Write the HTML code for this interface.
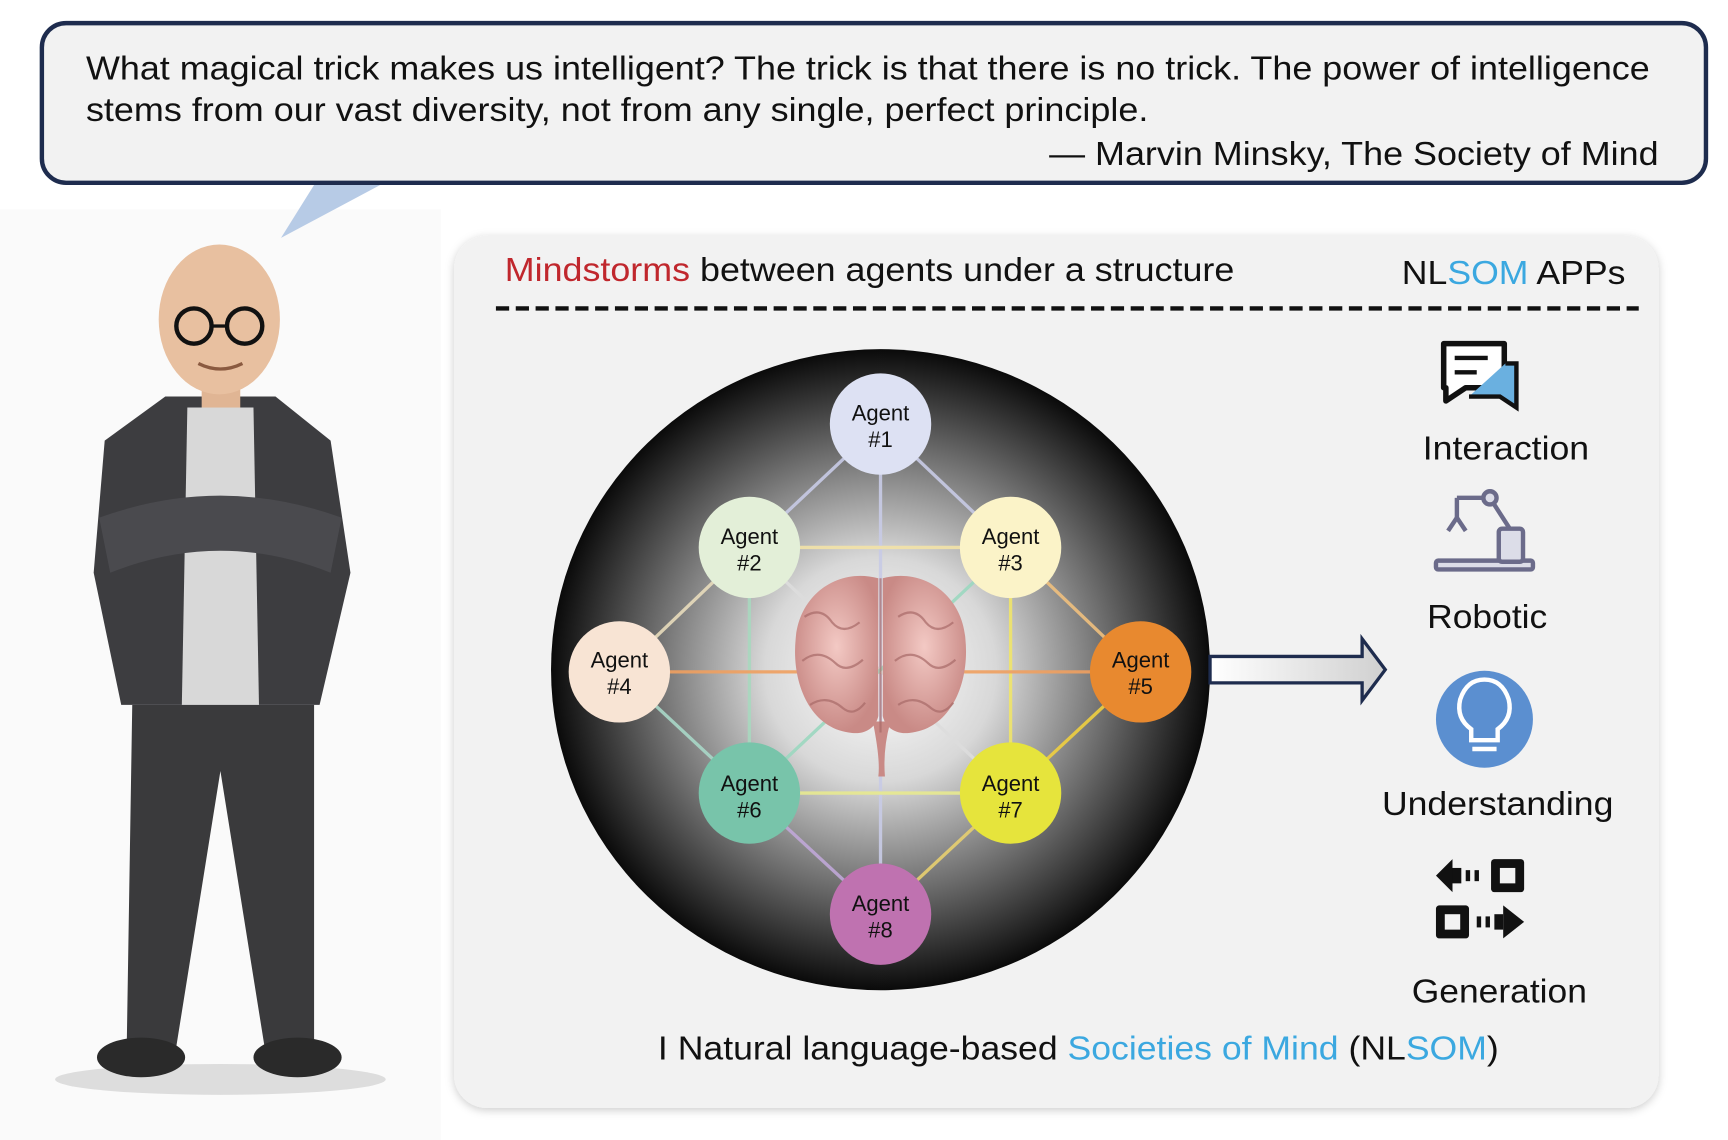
<!DOCTYPE html>
<html><head><meta charset="utf-8"><style>
html,body{margin:0;padding:0;background:#fff;}
svg{display:block;}
text{font-family:"Liberation Sans",Arial,sans-serif;}
</style></head><body>
<svg width="1728" height="1140" viewBox="0 0 1568 1035" preserveAspectRatio="none" xmlns="http://www.w3.org/2000/svg">
<defs>
<radialGradient id="orb" cx="50%" cy="50%" r="50%">
<stop offset="0" stop-color="#ffffff"/><stop offset="0.35" stop-color="#d8d8d8"/><stop offset="0.7" stop-color="#6a6a6a"/><stop offset="1" stop-color="#0a0a0a"/>
</radialGradient>
<linearGradient id="arr" x1="0" x2="1"><stop offset="0" stop-color="#fff"/><stop offset="1" stop-color="#d0d0d0"/></linearGradient>
<filter id="sh" x="-5%" y="-5%" width="110%" height="110%"><feDropShadow dx="0" dy="2" stdDeviation="4" flood-color="#000" flood-opacity="0.2"/></filter>
<radialGradient id="brain" cx="50%" cy="45%" r="55%"><stop offset="0" stop-color="#f3c9c4"/><stop offset="1" stop-color="#c98a86"/></radialGradient>
</defs>
<rect width="1568" height="1035" fill="#fff"/>
<rect x="0" y="190" width="400" height="845" fill="#fafafa"/>
<!-- quote box -->
<rect x="38" y="21" width="1510" height="145" rx="22" fill="#f2f2f2" stroke="#1e2c4e" stroke-width="4"/>
<polygon points="255,216 285,168 345,168" fill="#b7cbe6"/>
<text x="78" y="72" font-size="30" fill="#111" textLength="1419" lengthAdjust="spacingAndGlyphs">What magical trick makes us intelligent? The trick is that there is no trick. The power of intelligence</text>
<text x="78" y="110" font-size="30" fill="#111" textLength="964" lengthAdjust="spacingAndGlyphs">stems from our vast diversity, not from any single, perfect principle.</text>
<text x="952" y="150" font-size="30" fill="#111" textLength="553" lengthAdjust="spacingAndGlyphs">— Marvin Minsky, The Society of Mind</text>
<!-- panel -->
<rect x="412" y="214" width="1093" height="792" rx="30" fill="#f2f2f2" filter="url(#sh)"/>
<text x="458" y="255" font-size="30" fill="#111" textLength="662" lengthAdjust="spacingAndGlyphs"><tspan fill="#c0272d">Mindstorms</tspan> between agents under a structure</text>
<text x="1272" y="258" font-size="30" fill="#111" textLength="203" lengthAdjust="spacingAndGlyphs">NL<tspan fill="#3ba8e0">SOM</tspan> APPs</text>
<line x1="450" y1="280" x2="1487" y2="280" stroke="#111" stroke-width="4" stroke-dasharray="12,6"/>
<!-- orb -->
<ellipse cx="799" cy="608" rx="299" ry="291" fill="url(#orb)"/>
<g stroke-width="3" opacity="0.9">
<line x1="799" y1="385" x2="799" y2="830" stroke="#c8cbe6"/>
<line x1="799" y1="385" x2="680" y2="497" stroke="#c8cbe6"/>
<line x1="799" y1="385" x2="917" y2="497" stroke="#c8cbe6"/>
<line x1="680" y1="497" x2="917" y2="497" stroke="#f3e3a8"/>
<line x1="680" y1="497" x2="562" y2="610" stroke="#e8dcbc"/>
<line x1="917" y1="497" x2="1035" y2="610" stroke="#f0c07e"/>
<line x1="680" y1="497" x2="680" y2="720" stroke="#a9d8bf"/>
<line x1="917" y1="497" x2="917" y2="720" stroke="#f0e56a"/>
<line x1="562" y1="610" x2="1035" y2="610" stroke="#f0a060"/>
<line x1="562" y1="610" x2="680" y2="720" stroke="#a9d8c8"/>
<line x1="1035" y1="610" x2="917" y2="720" stroke="#f0d040"/>
<line x1="680" y1="720" x2="917" y2="720" stroke="#e8ea90"/>
<line x1="680" y1="720" x2="799" y2="830" stroke="#c0a8d8"/>
<line x1="917" y1="720" x2="799" y2="830" stroke="#e8d070"/>
<line x1="680" y1="497" x2="917" y2="720" stroke="#ddd"/>
<line x1="917" y1="497" x2="680" y2="720" stroke="#9cd8c0"/>
</g>
<!-- brain -->
<g>
<path d="M797,525 C760,515 725,540 722,580 C718,620 735,660 770,665 C785,668 795,660 797,650 Z" fill="url(#brain)"/>
<path d="M801,525 C838,515 873,540 876,580 C880,620 863,660 828,665 C813,668 803,660 801,650 Z" fill="url(#brain)"/>
<path d="M792,655 Q799,690 797,705 L803,705 Q801,680 808,655 Z" fill="#c98a86"/>
<g fill="none" stroke="#a86a68" stroke-width="2" opacity="0.7">
<path d="M730,560 q15,-10 25,5 q10,12 25,0"/><path d="M728,600 q15,-12 30,2 q10,10 25,-3"/><path d="M735,640 q15,-10 30,3 q10,8 20,-5"/>
<path d="M815,560 q15,-10 25,5 q10,12 25,0"/><path d="M812,600 q15,-12 30,2 q10,10 25,-3"/><path d="M815,640 q15,-10 30,3 q10,8 20,-5"/>
<line x1="799" y1="525" x2="799" y2="665"/>
</g>
</g>
<!-- agents -->
<g font-size="20" text-anchor="middle" fill="#111">
<circle cx="799" cy="385" r="46" fill="#dde1f3"/><text x="799" y="382">Agent</text><text x="799" y="406">#1</text>
<circle cx="680" cy="497" r="46" fill="#e3efd8"/><text x="680" y="494">Agent</text><text x="680" y="518">#2</text>
<circle cx="917" cy="497" r="46" fill="#fbf3c8"/><text x="917" y="494">Agent</text><text x="917" y="518">#3</text>
<circle cx="562" cy="610" r="46" fill="#f8e4d4"/><text x="562" y="606">Agent</text><text x="562" y="630">#4</text>
<circle cx="1035" cy="610" r="46" fill="#e8892f"/><text x="1035" y="606">Agent</text><text x="1035" y="630">#5</text>
<circle cx="680" cy="720" r="46" fill="#78c4aa"/><text x="680" y="718">Agent</text><text x="680" y="742">#6</text>
<circle cx="917" cy="720" r="46" fill="#e6e43c"/><text x="917" y="718">Agent</text><text x="917" y="742">#7</text>
<circle cx="799" cy="830" r="46" fill="#bf72b0"/><text x="799" y="827">Agent</text><text x="799" y="851">#8</text>
</g>
<!-- arrow -->
<path d="M1098,596 L1236,596 L1236,580 L1257,608 L1236,636 L1236,620 L1098,620 Z" fill="url(#arr)" stroke="#1e2c4e" stroke-width="3"/>
<!-- icons -->
<g>
<path d="M1310,312 h55 v40 h-35 l-18,12 v-12 h-2 z" fill="#fff" stroke="#111" stroke-width="5" stroke-linejoin="round"/>
<path d="M1366,330 h10 v40 l-15,-10 h-28" fill="#6ab0e0" stroke="#111" stroke-width="4"/>
<line x1="1320" y1="325" x2="1350" y2="325" stroke="#111" stroke-width="4"/><line x1="1320" y1="338" x2="1340" y2="338" stroke="#111" stroke-width="4"/>
</g>
<text x="1291" y="417" font-size="30" fill="#111" textLength="151" lengthAdjust="spacingAndGlyphs">Interaction</text>
<g stroke="#6b6b8a" stroke-width="4" fill="#dcdde8">
<rect x="1303" y="509" width="88" height="8" rx="2"/>
<rect x="1360" y="480" width="22" height="30" rx="3"/>
<line x1="1370" y1="480" x2="1352" y2="452"/><line x1="1352" y1="452" x2="1322" y2="452"/>
<circle cx="1352" cy="452" r="6"/><line x1="1322" y1="452" x2="1322" y2="470"/>
<path d="M1314,482 l8,-12 l8,12" fill="none"/>
</g>
<text x="1295" y="570" font-size="30" fill="#111" textLength="109" lengthAdjust="spacingAndGlyphs">Robotic</text>
<circle cx="1347" cy="653" r="44" fill="#5b8fd0"/>
<path d="M1335,672 v-10 q-14,-10 -10,-27 q6,-18 22,-18 q16,0 22,18 q4,17 -10,27 v10 z" fill="none" stroke="#fff" stroke-width="4"/>
<line x1="1336" y1="680" x2="1358" y2="680" stroke="#fff" stroke-width="4"/>
<text x="1254" y="740" font-size="30" fill="#111" textLength="210" lengthAdjust="spacingAndGlyphs">Understanding</text>
<g fill="#111">
<polygon points="1303,795 1318,780 1318,810"/><rect x="1318" y="788" width="8" height="14"/><rect x="1330" y="790" width="4" height="10"/><rect x="1338" y="790" width="4" height="10"/>
<rect x="1353" y="780" width="30" height="30" rx="3"/><rect x="1361" y="788" width="14" height="14" fill="#f2f2f2"/>
<rect x="1303" y="822" width="30" height="30" rx="3"/><rect x="1311" y="830" width="14" height="14" fill="#f2f2f2"/>
<rect x="1340" y="832" width="4" height="10"/><rect x="1348" y="832" width="4" height="10"/><rect x="1356" y="830" width="8" height="14"/><polygon points="1364,822 1383,837 1364,852"/>
</g>
<text x="1281" y="910" font-size="30" fill="#111" textLength="159" lengthAdjust="spacingAndGlyphs">Generation</text>
<text x="597" y="962" font-size="30" fill="#111" textLength="763" lengthAdjust="spacingAndGlyphs">I Natural language-based <tspan fill="#3ba8e0">Societies of Mind</tspan> (NL<tspan fill="#3ba8e0">SOM</tspan>)</text>
<!-- man -->
<g>
<ellipse cx="200" cy="980" rx="150" ry="14" fill="#ddd"/>
<path d="M120,640 L115,950 L160,950 L200,700 L240,950 L285,950 L285,640 Z" fill="#3a3a3c"/>
<ellipse cx="128" cy="960" rx="40" ry="18" fill="#2a2a2a"/><ellipse cx="270" cy="960" rx="40" ry="18" fill="#2a2a2a"/>
<path d="M150,360 L250,360 L300,400 L318,520 L290,640 L110,640 L85,520 L95,400 Z" fill="#3d3d40"/>
<path d="M170,370 L230,370 L235,640 L165,640 Z" fill="#d8d8d8"/>
<path d="M90,470 Q200,430 310,470 L300,520 Q200,480 100,520 Z" fill="#4a4a4e"/>
<rect x="183" y="330" width="35" height="40" fill="#e0b594"/>
<ellipse cx="199" cy="290" rx="55" ry="68" fill="#e8c0a0"/>
<circle cx="176" cy="296" r="16" fill="none" stroke="#111" stroke-width="4"/><circle cx="222" cy="296" r="16" fill="none" stroke="#111" stroke-width="4"/>
<line x1="192" y1="296" x2="206" y2="296" stroke="#111" stroke-width="3"/>
<path d="M180,330 q20,10 40,0" fill="none" stroke="#8a5a40" stroke-width="3"/>
</g>
</svg>
</body></html>
